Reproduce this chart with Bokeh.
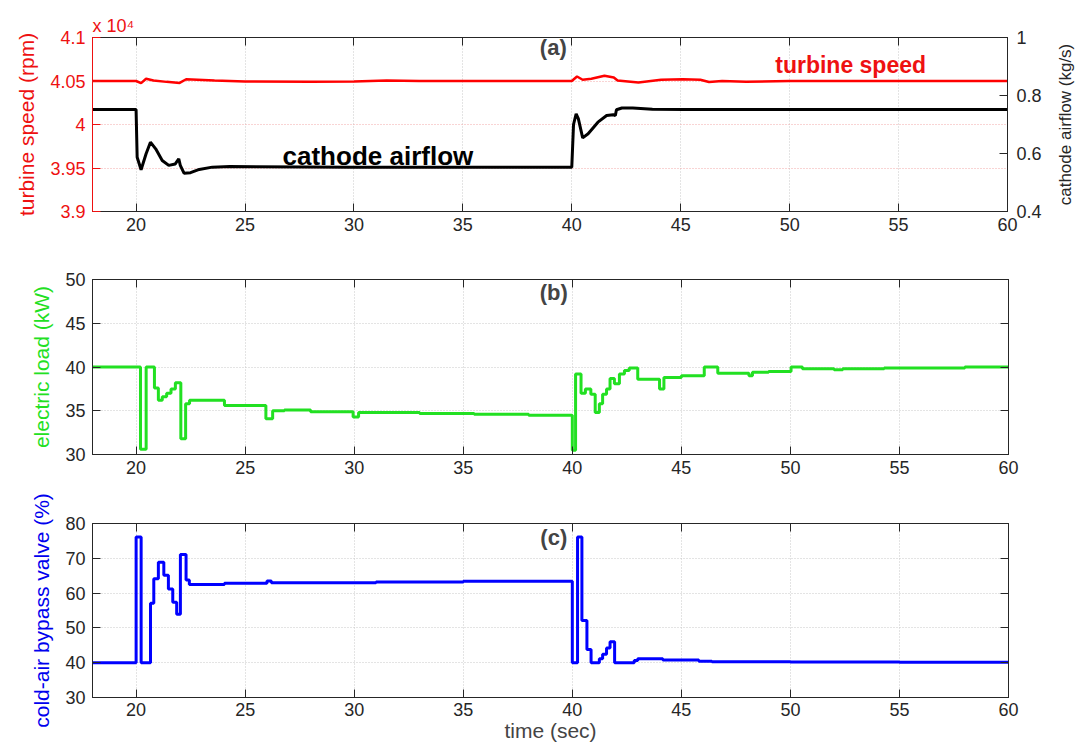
import math
from bokeh.plotting import figure
from bokeh.models import Range1d, LinearAxis, FixedTicker, CustomJSTickFormatter, Label
from bokeh.layouts import column, row
from bokeh.embed import file_html
from bokeh.resources import INLINE

# ---------------- data ----------------
x_ticks = [20, 25, 30, 35, 40, 45, 50, 55, 60]
speed_ticks = [3.9, 3.95, 4.0, 4.05, 4.1]          # x 10^4 rpm
air_ticks = [0.4, 0.6, 0.8, 1.0]
load_ticks = [30, 35, 40, 45, 50]
valve_ticks = [30, 40, 50, 60, 70, 80]

turb_t = [18, 20.0, 20.23, 20.46, 20.8, 21.4, 22.0, 22.3, 23.6, 25, 28, 30, 31.5, 33, 36,
          40.0, 40.24, 40.5, 40.9, 41.5, 41.93, 42.1, 43.06, 44.1, 45.1, 45.9, 46.3, 46.9,
          48, 50, 55, 60]
turb_rpm = [40500, 40500, 40475, 40526, 40505, 40490, 40478, 40520, 40505, 40495, 40492,
            40495, 40505, 40500, 40500, 40500, 40552, 40514, 40525, 40560, 40540, 40505,
            40483, 40514, 40521, 40515, 40488, 40500, 40492, 40500, 40500, 40500]

air_t = [18, 20.0, 20.05, 20.23, 20.46, 20.66, 20.9, 21.2, 21.5, 21.8, 21.96, 22.03, 22.2,
         22.5, 22.9, 23.5, 24.3, 30, 40.0, 40.08, 40.2, 40.3, 40.5, 40.75, 41.2, 41.6, 41.9,
         42.0, 42.05, 42.3, 42.8, 43.7, 45.2, 50, 60]
air_kgs = [0.752, 0.752, 0.587, 0.544, 0.599, 0.639, 0.616, 0.576, 0.559, 0.564, 0.582,
           0.559, 0.532, 0.534, 0.545, 0.553, 0.555, 0.553, 0.553, 0.70, 0.737, 0.72, 0.654,
           0.668, 0.708, 0.731, 0.734, 0.731, 0.751, 0.757, 0.757, 0.753, 0.752, 0.752, 0.752]

load_t = [18, 20.2, 20.46, 20.84, 21.02, 21.2, 21.4, 21.6, 21.8, 22.05, 22.27, 22.45, 24.05,
          25.95, 26.26, 26.8, 28.0, 29.95, 30.2, 33, 35.5, 38, 40.0, 40.15, 40.4, 40.6, 40.85,
          41.05, 41.24, 41.39, 41.57, 41.73, 41.93, 42.16, 42.39, 42.61, 43.0, 44.0, 44.2,
          45.0, 46.05, 46.67, 48.1, 48.26, 49.0, 50.03, 50.55, 52.0, 52.4, 54.3, 56.0, 58.0, 60]
load_kw = [40.0, 30.6, 40.0, 37.6, 36.2, 36.6, 37.0, 37.5, 38.2, 31.8, 35.8, 36.2, 35.6,
           34.1, 35.0, 35.1, 34.9, 34.3, 34.8, 34.7, 34.6, 34.5, 30.5, 39.2, 37.0, 37.5, 36.9,
           34.8, 35.8, 36.9, 37.5, 38.7, 38.1, 39.2, 39.6, 39.9, 38.6, 37.5, 38.8, 39.0, 40.0,
           39.3, 39.0, 39.4, 39.5, 40.0, 39.8, 39.7, 39.8, 39.9, 39.9, 40.0, 40.0]

valve_t = [18, 20.0, 20.23, 20.66, 20.81, 21.02, 21.27, 21.48, 21.68, 21.86, 22.03, 22.29,
           22.44, 24.05, 26.0, 26.2, 31, 35, 40.0, 40.24, 40.44, 40.67, 40.86, 41.24, 41.39,
           41.57, 41.73, 41.94, 42.84, 43.0, 44.15, 45.8, 46.4, 50, 55, 60]
valve_pct = [40.0, 76.1, 40.0, 57.1, 64.1, 68.9, 65.1, 61.2, 57.4, 53.9, 71.1, 63.8, 62.5,
             62.8, 63.5, 63.0, 63.2, 63.4, 40.0, 76.1, 52.1, 43.8, 40.0, 41.1, 42.4, 44.2,
             46.0, 40.0, 40.6, 41.1, 40.8, 40.4, 40.3, 40.2, 40.1, 40.1]

# ---------------- styling ----------------
FONT = "Liberation Sans"
TICK_FS = "18px"
LAB_FS = "21px"
RED = "#ee1111"
GREEN = "#22e022"
BLUE = "#0000ee"
DARK = "#262626"
W = 1080
SIDE_W = 36

fmt = CustomJSTickFormatter(code="return Number(tick.toFixed(3)).toString();")
blank = CustomJSTickFormatter(code="return '';")


def style_axis(ax, color=DARK, label_color=DARK, show_labels=True, standoff=6):
    ax.major_tick_in = 8
    ax.major_tick_out = 0
    ax.minor_tick_line_color = None
    ax.axis_line_color = color
    ax.major_tick_line_color = color
    ax.major_label_text_font = FONT
    ax.major_label_text_color = label_color
    ax.axis_label_text_font = FONT
    ax.axis_label_text_font_style = "normal"
    ax.axis_label_text_font_size = LAB_FS
    if show_labels:
        ax.major_label_text_font_size = TICK_FS
        ax.major_label_standoff = standoff
    else:
        ax.formatter = blank
        ax.major_label_text_font_size = "1px"
        ax.major_label_standoff = 0


def make_fig(width, height, top, bottom, right, yr, yticks, grid_color="#c8c8c8"):
    p = figure(width=width, height=height, x_range=Range1d(18, 60), y_range=yr,
               output_backend="svg", toolbar_location=None,
               min_border_left=92, min_border_right=right,
               min_border_top=top, min_border_bottom=bottom)
    p.outline_line_color = DARK
    p.outline_line_width = 1
    p.background_fill_color = "white"
    p.border_fill_color = "white"
    xt = FixedTicker(ticks=x_ticks)
    yt = FixedTicker(ticks=yticks)
    bottom_ax = p.below[0]
    bottom_ax.ticker = xt
    p.yaxis.ticker = yt
    p.xgrid.ticker = xt
    p.ygrid.ticker = yt
    p.xgrid.grid_line_color = "#c8c8c8"
    p.ygrid.grid_line_color = grid_color
    p.xgrid.grid_line_dash = "1 2"
    p.ygrid.grid_line_dash = "1 2"
    style_axis(bottom_ax)
    top_ax = LinearAxis(ticker=FixedTicker(ticks=x_ticks))
    style_axis(top_ax, show_labels=False)
    p.add_layout(top_ax, "above")
    return p, bottom_ax


# ---------------- panel (a) ----------------
pa, xa = make_fig(W - SIDE_W, 245, 37, 34, 72 - SIDE_W, Range1d(3.9, 4.1), speed_ticks,
                  grid_color="#f2a8a8")
pa.title.text = "x 10\u2074"
pa.title.align = "left"
pa.title.offset = 0
pa.title.text_color = RED
pa.title.text_font = FONT
pa.title.text_font_style = "normal"
pa.title.text_font_size = "18px"
pa.title.standoff = 4
pa.extra_y_ranges = {"air": Range1d(0.4, 1.0)}
la = pa.left[0]
la.formatter = fmt
style_axis(la, color=RED, label_color=RED, standoff=7)
la.axis_label = "turbine speed (rpm)"
la.axis_label_text_color = RED
la.axis_label_standoff = 9
ra = LinearAxis(y_range_name="air", ticker=FixedTicker(ticks=air_ticks), formatter=fmt)
style_axis(ra, standoff=9)
pa.add_layout(ra, "right")

pa.line(turb_t, [v / 1e4 for v in turb_rpm], line_color="#ff0000", line_width=2.5)
pa.line(air_t, air_kgs, y_range_name="air", line_color="black", line_width=3)

pa.add_layout(Label(x=39.15, y=4.089, text="(a)", text_font=FONT, text_font_style="bold",
                    text_font_size="22px", text_align="center", text_baseline="middle"))
pa.add_layout(Label(x=52.8, y=4.068, text="turbine speed", text_color=RED, text_font=FONT,
                    text_font_style="bold", text_font_size="23px", text_align="center",
                    text_baseline="middle"))
pa.add_layout(Label(x=31.1, y=3.964, text="cathode airflow", text_color="black", text_font=FONT,
                    text_font_style="bold", text_font_size="26px", text_align="center",
                    text_baseline="middle"))

# right-hand axis title of panel (a), reading bottom-to-top as in the reference
side = figure(width=SIDE_W, height=245, x_range=Range1d(0, 1), y_range=Range1d(0, 1),
              output_backend="svg", toolbar_location=None, x_axis_type=None, y_axis_type=None,
              min_border_left=0, min_border_right=0, min_border_top=0, min_border_bottom=0)
side.outline_line_color = None
side.xgrid.visible = False
side.ygrid.visible = False
side.add_layout(Label(x=0.5, y=0.5, x_offset=3, y_offset=0, text="cathode airflow (kg/s)",
                      angle=math.pi / 2, text_align="center", text_baseline="middle",
                      text_font=FONT, text_font_size="17px", text_color=DARK))

# ---------------- panel (b) ----------------
pb, xb = make_fig(W, 244, 34, 35, 72, Range1d(30, 50), load_ticks)
lb = pb.left[0]
style_axis(lb, standoff=7)
lb.axis_label = "electric load (kW)"
lb.axis_label_text_color = GREEN
lb.axis_label_standoff = 9
rb = LinearAxis(ticker=FixedTicker(ticks=load_ticks))
style_axis(rb, show_labels=False)
pb.add_layout(rb, "right")
pb.step(load_t, load_kw, mode="after", line_color=GREEN, line_width=3)
pb.add_layout(Label(x=39.15, y=48.5, text="(b)", text_font=FONT, text_font_style="bold",
                    text_font_size="22px", text_align="center", text_baseline="middle"))

# ---------------- panel (c) ----------------
pc, xc = make_fig(W, 257, 34, 49, 72, Range1d(30, 80), valve_ticks)
lc = pc.left[0]
style_axis(lc, standoff=7)
lc.axis_label = "cold-air bypass valve (%)"
lc.axis_label_text_color = BLUE
lc.axis_label_standoff = 9
xc.axis_label = "time (sec)"
xc.axis_label_standoff = 0
xc.major_label_standoff = 5
rc = LinearAxis(ticker=FixedTicker(ticks=valve_ticks))
style_axis(rc, show_labels=False)
pc.add_layout(rc, "right")
pc.step(valve_t, valve_pct, mode="after", line_color="#0000ff", line_width=3)
pc.add_layout(Label(x=39.15, y=76.0, text="(c)", text_font=FONT, text_font_style="bold",
                    text_font_size="22px", text_align="center", text_baseline="middle"))

layout = column(row(pa, side), pb, pc)
open("out.html", "w").write(file_html(layout, INLINE))
